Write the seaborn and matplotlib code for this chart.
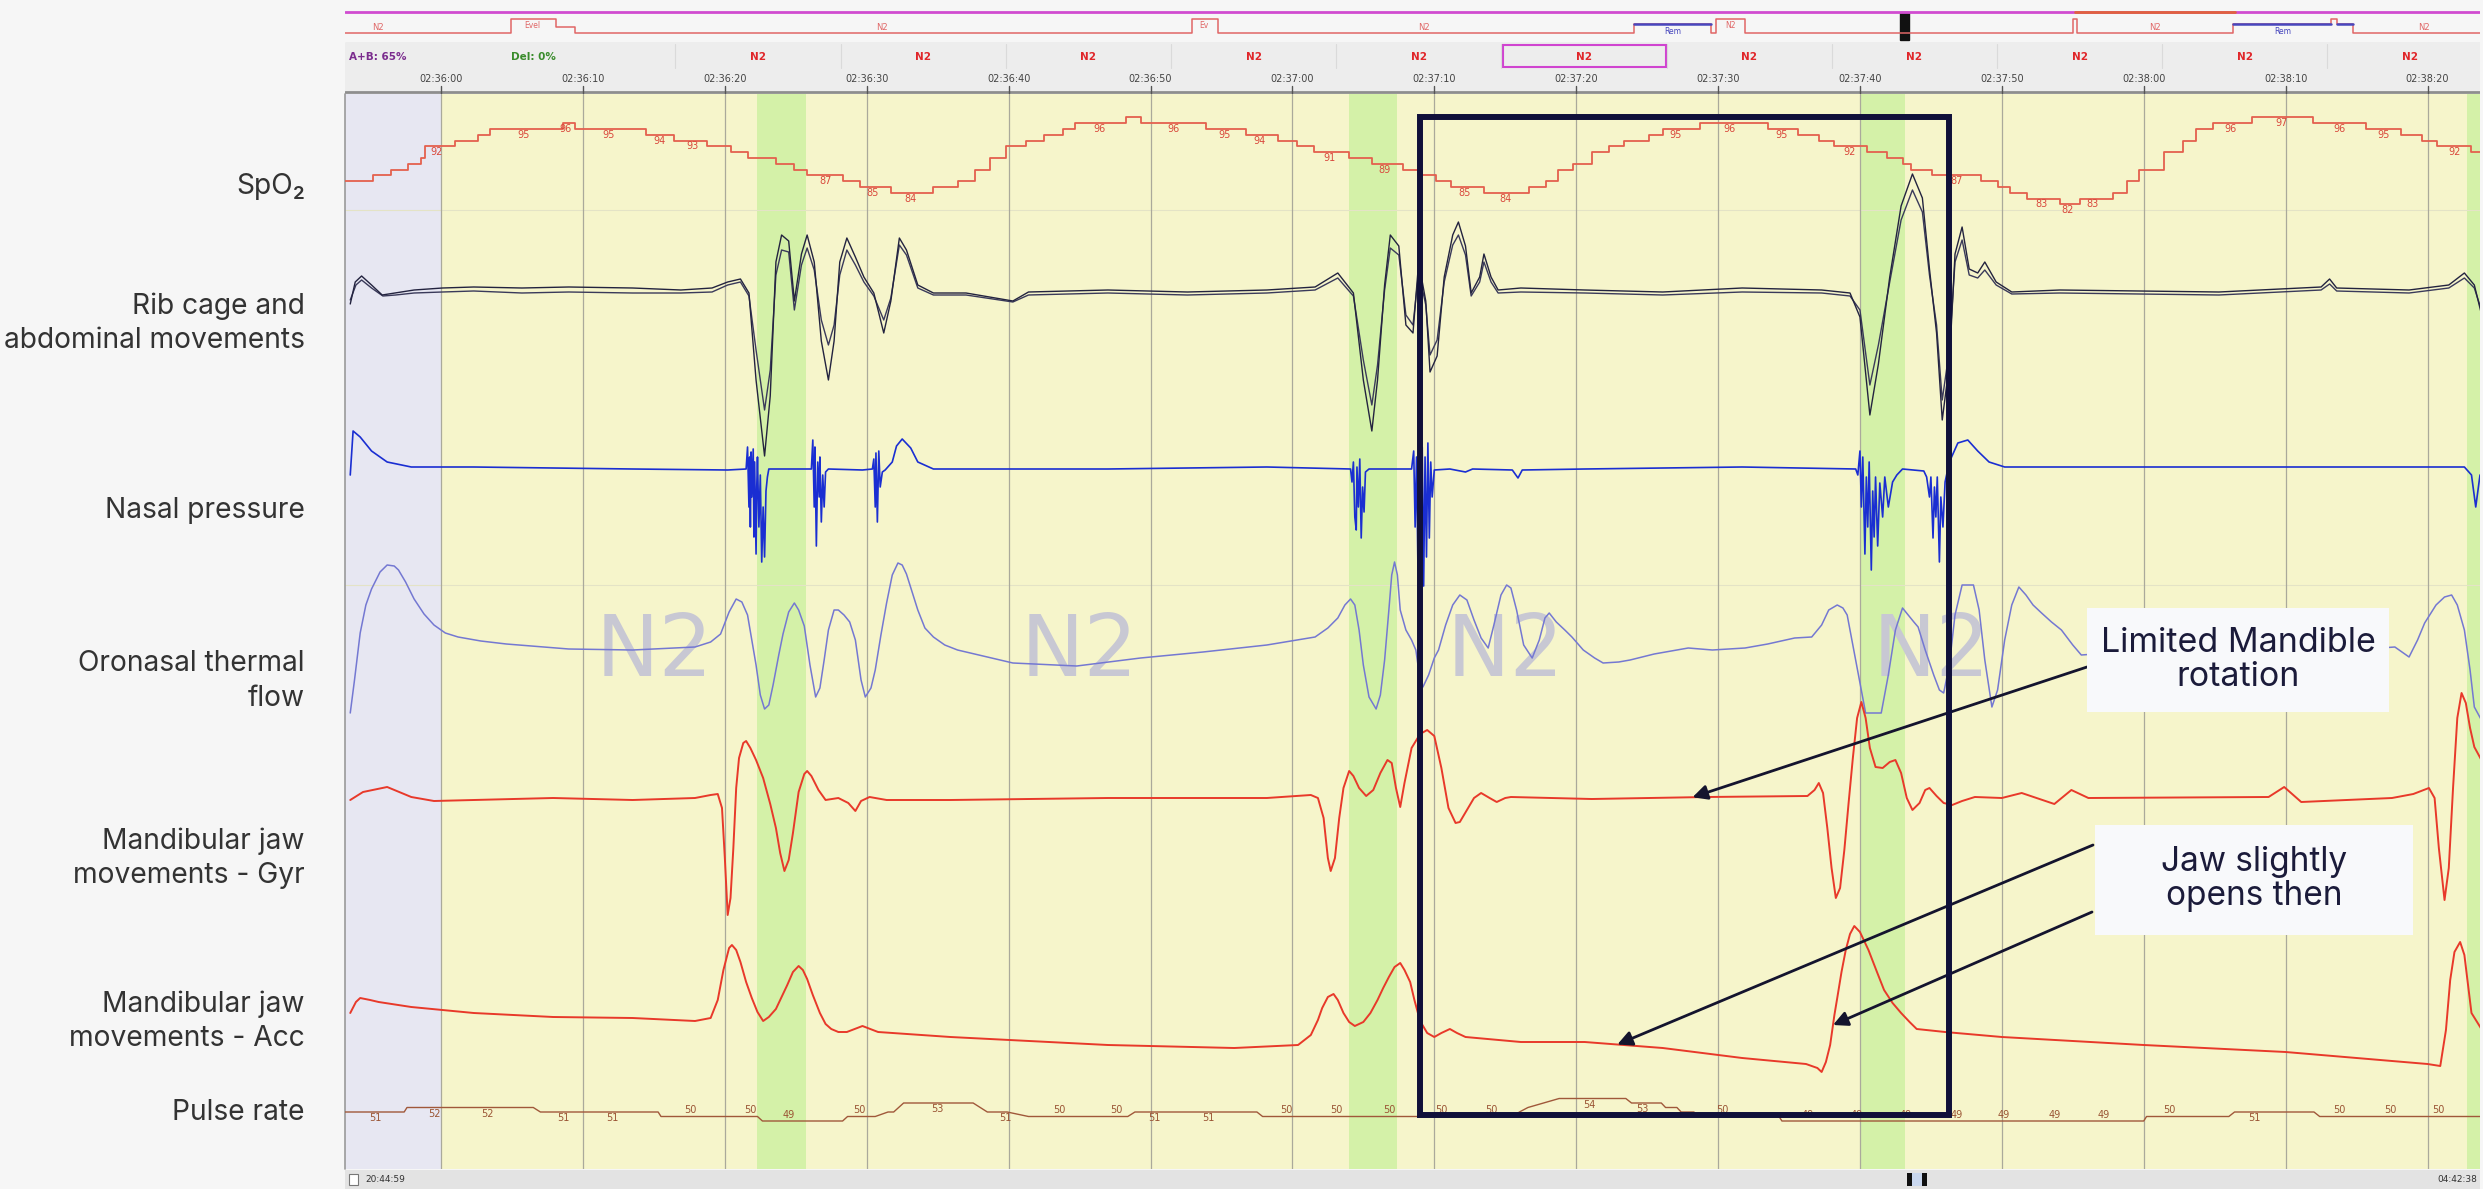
import numpy as np
import pandas as pd
import matplotlib
matplotlib.use("Agg")
import matplotlib.pyplot as plt
import seaborn as sns
from matplotlib.patches import Rectangle

# ------------------------------------------------------------------ data
# time axis: seconds after 02:36:00
tick_seconds = [0, 10, 20, 30, 40, 50, 60, 70, 80, 90, 100, 110, 120, 130, 140]
tick_labels = ["02:36:00", "02:36:10", "02:36:20", "02:36:30", "02:36:40",
               "02:36:50", "02:37:00", "02:37:10", "02:37:20", "02:37:30",
               "02:37:40", "02:37:50", "02:38:00", "02:38:10", "02:38:20"]

arousal_bands = [(22.3, 25.7), (64.0, 67.4), (100.1, 103.2), (142.8, 144.0)]
epoch_centers = [15, 45, 75, 105]
epoch_stages = ["N2", "N2", "N2", "N2"]
highlight_window = (69.0, 106.3)

# SpO2 (%), stepped
spo2_t = [-6.77, -4.8, -3.5, -2.3, -1.4, -1.1, 0.99, 2.6, 3.45, 8.6, 9.44, 14.45, 16.4,
          18.75, 20.4, 21.6, 23.6, 24.9, 25.8, 28.3, 29.5, 31.7, 34.7, 36.4, 37.6, 38.7,
          39.8, 41.2, 42.5, 43.8, 44.7, 48.3, 49.3, 53.9, 56.7, 59.0, 60.3, 61.5, 64.0,
          65.6, 67.8, 69.1, 70.1, 71.2, 73.5, 76.7, 77.9, 78.7, 79.8, 81.1, 82.3, 83.4,
          85.1, 86.1, 88.7, 93.5, 95.6, 97.1, 98.2, 100.5, 101.9, 103.0, 103.6, 105.1,
          108.5, 109.7, 110.6, 111.8, 114.1, 115.5, 117.8, 118.8, 119.7, 121.4, 122.8,
          123.7, 124.9, 127.6, 131.9, 135.7, 138.1, 139.6, 140.7, 143.1, 143.7]
spo2_v = [86, 87, 88, 89, 90, 92, 93, 94, 95, 96, 95, 94, 93, 92, 91, 90, 89, 88, 87, 86,
          85, 84, 85, 86, 88, 90, 92, 93, 94, 95, 96, 97, 96, 95, 94, 93, 92, 91, 90, 89,
          88, 87, 86, 85, 84, 85, 86, 88, 89, 91, 92, 93, 94, 95, 96, 95, 94, 93, 92, 91,
          90, 89, 88, 87, 86, 85, 84, 83, 82, 83, 84, 86, 88, 91, 93, 95, 96, 97, 96, 95,
          94, 93, 92, 91, 91]
spo2_label_t = [-0.3, 5.8, 8.8, 11.8, 15.4, 17.7, 27.1, 30.4, 33.1, 46.4, 51.6, 55.2,
                57.7, 62.6, 66.5, 72.1, 75.0, 87.0, 90.8, 94.5, 99.3, 106.8, 112.8, 114.6,
                116.4, 126.1, 129.7, 133.8, 136.9, 141.9]

# respiratory effort, two belts (a.u.)
rib = [(-6.4, -14), (-6.05, 8), (-5.6, 14), (-4.9, 5), (-4.15, -5), (-3.25, -3), (-1.9, 0),
       (0.1, 2), (2.3, 3), (5.7, 2), (9.0, 3), (13.5, 2), (16.9, 0), (19.1, 2), (20.2, 8),
       (21.1, 11), (21.7, -3), (22.2, -90), (22.8, -166), (23.2, -106), (23.6, 28),
       (24.0, 55), (24.5, 49), (24.9, -11), (25.4, 36), (25.8, 55), (26.3, 28), (26.8, -51),
       (27.3, -90), (27.7, -51), (28.1, 28), (28.6, 52), (29.2, 33), (29.8, 13), (30.5, -3),
       (31.2, -43), (31.7, -11), (32.3, 52), (32.8, 40), (33.6, 5), (34.7, -3), (37.0, -3),
       (40.3, -11), (41.4, -2), (47.0, 0), (52.6, -2), (58.2, 0), (61.6, 3), (63.2, 17),
       (64.3, -3), (65.0, -90), (65.6, -141), (66.0, -90), (66.5, 5), (66.9, 55), (67.5, 44),
       (68.0, -35), (68.5, -43), (68.9, 28), (69.4, -11), (69.7, -82), (70.2, -66), (70.7, 13),
       (71.3, 55), (71.7, 68), (72.2, 44), (72.6, -3), (73.2, 13), (73.5, 36), (74.0, 13),
       (74.5, 0), (76.1, 2), (80.6, 0), (86.1, -2), (91.7, 2), (97.3, 0), (99.3, -3),
       (100.0, -27), (100.7, -125), (101.3, -74), (102.1, 13), (102.9, 84), (103.7, 116),
       (104.4, 92), (104.9, 21), (105.4, -43), (105.8, -130), (106.3, -74), (106.7, 36),
       (107.2, 63), (107.7, 21), (108.3, 17), (108.8, 28), (109.6, 8), (110.7, -2),
       (114.1, 0), (125.3, -2), (132.5, 3), (133.1, 11), (133.6, 2), (138.7, 0), (141.5, 5),
       (142.6, 17), (143.3, 5), (143.8, -24)]
abd = [(-6.4, -10), (-6.0, 5), (-5.6, 10), (-4.9, 2), (-4.1, -6), (-3.2, -5), (-1.9, -3),
       (0.1, -2), (2.3, -1), (5.7, -3), (9.0, -2), (13.5, -3), (16.9, -3), (19.1, -2),
       (20.2, 5), (21.1, 8), (21.7, -6), (22.2, -60), (22.8, -120), (23.2, -80), (23.6, 15),
       (24.0, 40), (24.5, 38), (24.9, -20), (25.4, 25), (25.8, 42), (26.3, 20), (26.8, -30),
       (27.3, -55), (27.7, -35), (28.1, 15), (28.6, 40), (29.2, 25), (29.8, 8), (30.5, -6),
       (31.2, -30), (31.7, -8), (32.3, 45), (32.8, 35), (33.6, 2), (34.7, -5), (37.0, -5),
       (40.3, -12), (41.4, -5), (47.0, -3), (52.6, -5), (58.2, -3), (61.6, 0), (63.2, 12),
       (64.3, -6), (65.0, -70), (65.6, -115), (66.0, -75), (66.5, 0), (66.9, 42), (67.5, 35),
       (68.0, -25), (68.5, -35), (68.9, 18), (69.4, -15), (69.7, -65), (70.2, -50), (70.7, 8),
       (71.3, 45), (71.7, 55), (72.2, 35), (72.6, -6), (73.2, 8), (73.5, 28), (74.0, 8),
       (74.5, -3), (76.1, -2), (80.6, -3), (86.1, -5), (91.7, -2), (97.3, -3), (99.3, -6),
       (100.0, -20), (100.7, -95), (101.3, -55), (102.1, 8), (102.9, 70), (103.7, 100),
       (104.4, 78), (104.9, 15), (105.4, -35), (105.8, -110), (106.3, -60), (106.7, 28),
       (107.2, 50), (107.7, 15), (108.3, 12), (108.8, 20), (109.6, 5), (110.7, -4),
       (114.1, -3), (125.3, -5), (132.5, 0), (133.1, 6), (133.6, -1), (138.7, -3),
       (141.5, 2), (142.6, 12), (143.3, 2), (143.8, -20)]

# nasal pressure (a.u.)
nasal = [(-6.4, -8), (-6.2, 36), (-5.7, 30), (-4.9, 16), (-3.8, 5), (-2.1, 0), (2.3, 0),
         (13.5, -2), (20.2, -3), (21.5, -2), (21.6, 20), (21.7, -40), (21.75, 10), (21.8, -60),
         (21.85, 15), (21.9, -30), (22.0, 18), (22.05, -70), (22.1, 5), (22.2, -87),
         (22.25, -20), (22.3, 10), (22.4, -60), (22.5, -8), (22.6, -95), (22.7, -40),
         (22.8, -90), (22.9, -24), (23.0, -10), (23.1, -2), (24.7, -2), (26.1, -2),
         (26.2, 27), (26.3, -40), (26.35, 20), (26.45, -79), (26.55, 5), (26.65, -30),
         (26.7, 10), (26.8, -55), (26.9, -8), (27.0, -40), (27.1, -5), (27.3, -2),
         (29.7, -3), (30.4, -2), (30.5, 8), (30.6, -40), (30.65, 14), (30.75, -55),
         (30.85, 16), (30.95, -20), (31.1, -5), (31.3, -3), (31.8, 5), (32.1, 21),
         (32.5, 28), (33.1, 19), (33.6, 5), (34.7, -2), (47.0, -2), (58.2, 0), (64.1, -2),
         (64.2, -15), (64.3, 5), (64.4, -50), (64.5, -63), (64.55, 0), (64.65, -40),
         (64.75, 8), (64.85, -71), (64.95, -20), (65.05, -45), (65.15, -5), (65.4, -2),
         (68.4, -2), (68.55, 16), (68.65, -60), (68.75, 10), (68.85, -103), (68.95, 8),
         (69.05, -80), (69.15, 20), (69.25, -119), (69.35, 10), (69.45, -90), (69.55, 24),
         (69.65, -71), (69.75, 5), (69.85, -30), (70.0, -3), (71.1, -2), (72.2, -5),
         (72.7, -2), (75.5, -3), (75.9, -11), (76.2, -3), (80.6, -2), (91.7, 0), (99.7, -2),
         (99.85, -8), (100.0, 16), (100.1, -40), (100.2, 10), (100.35, -87), (100.45, -10),
         (100.55, -60), (100.65, 5), (100.8, -103), (100.9, -24), (101.0, -70), (101.1, -10),
         (101.25, -79), (101.4, -16), (101.6, -50), (101.75, -10), (102.0, -40),
         (102.3, -15), (102.6, -8), (103.0, -2), (104.5, -4), (104.7, -10), (104.9, -30),
         (105.0, -10), (105.15, -71), (105.25, -20), (105.35, -50), (105.45, -10),
         (105.6, -95), (105.7, -30), (105.85, -60), (106.0, -15), (106.3, 5), (106.9, 24),
         (107.6, 27), (108.3, 16), (109.1, 5), (110.2, 0), (125.3, 0), (142.6, 0),
         (143.1, -8), (143.4, -40), (143.7, -8)]

# oronasal thermal flow (a.u.)
flow = [(-6.4, -63), (-6.1, -30), (-5.7, 17), (-5.3, 45), (-4.9, 61), (-4.3, 78), (-3.8, 85),
        (-3.3, 84), (-3.0, 80), (-2.5, 68), (-1.9, 51), (-1.2, 36), (-0.5, 25), (0.3, 17),
        (1.2, 13), (2.8, 9), (4.6, 6), (9.0, 1), (13.5, 0), (17.9, 3), (19.0, 8), (19.7, 16),
        (20.3, 38), (20.8, 51), (21.2, 48), (21.6, 35), (21.9, 10), (22.2, -15), (22.5, -45),
        (22.8, -59), (23.1, -55), (23.4, -35), (23.8, -5), (24.1, 16), (24.5, 38), (24.9, 47),
        (25.2, 40), (25.6, 24), (26.0, -15), (26.4, -47), (26.7, -38), (27.0, -10), (27.3, 20),
        (27.7, 40), (28.0, 40), (28.4, 35), (28.8, 28), (29.2, 10), (29.6, -30), (29.9, -47),
        (30.3, -38), (30.6, -20), (31.0, 15), (31.4, 47), (31.8, 75), (32.2, 87), (32.5, 85),
        (32.8, 76), (33.2, 58), (33.6, 40), (34.1, 22), (34.7, 13), (35.5, 5), (36.4, 0),
        (40.3, -13), (44.8, -16), (49.3, -8), (53.7, -2), (58.2, 5), (61.6, 13), (62.5, 22),
        (63.2, 32), (63.7, 45), (64.1, 51), (64.4, 45), (64.7, 20), (65.0, -15), (65.4, -47),
        (65.9, -59), (66.2, -45), (66.5, -10), (66.8, 40), (67.0, 75), (67.2, 88), (67.4, 75),
        (67.6, 40), (68.0, 20), (68.4, 10), (68.7, 0), (69.0, -30), (69.2, -37), (69.6, -25),
        (70.0, -8), (70.3, 0), (70.8, 25), (71.3, 45), (71.8, 55), (72.3, 50), (72.8, 30),
        (73.3, 12), (73.8, 2), (74.2, 25), (74.7, 55), (75.1, 65), (75.4, 62), (75.8, 40),
        (76.3, 5), (76.9, -8), (77.4, 10), (77.8, 32), (78.1, 37), (78.6, 28), (79.2, 20),
        (79.7, 13), (80.5, 0), (81.3, -8), (81.9, -13), (83.0, -12), (83.8, -10), (85.5, -4),
        (87.9, 2), (89.6, 0), (91.9, 2), (93.5, 6), (95.4, 12), (96.6, 13), (97.3, 25),
        (97.8, 40), (98.4, 45), (98.8, 42), (99.1, 35), (99.5, 5), (100.0, -33), (100.4, -63),
        (101.5, -63), (102.0, -25), (102.5, 20), (103.0, 42), (103.4, 35), (103.8, 28),
        (104.1, 23), (104.6, 0), (105.2, -25), (105.6, -40), (105.9, -43), (106.3, -15),
        (106.7, 35), (107.2, 65), (108.0, 65), (108.4, 40), (108.8, -10), (109.3, -57),
        (109.7, -40), (110.2, 10), (110.7, 45), (111.2, 63), (111.7, 55), (112.2, 45),
        (112.8, 37), (113.5, 28), (114.2, 20), (115.0, 5), (115.6, -5), (120.5, 0),
        (127.6, -5), (134.7, 0), (137.7, 3), (138.7, -7), (139.3, 10), (139.8, 27),
        (140.6, 45), (141.2, 53), (141.7, 55), (142.1, 45), (142.6, 20), (143.0, -20),
        (143.3, -57), (143.8, -70)]

# mandibular jaw movements, gyroscope (a.u.)
gyr = [(-6.4, -2), (-5.5, 6), (-3.8, 11), (-2.1, 1), (-0.5, -3), (2.3, -2), (7.9, 0),
       (13.5, -2), (17.9, 0), (19.0, 3), (19.5, 4), (19.8, -10), (20.0, -60), (20.2, -117),
       (20.4, -100), (20.6, -50), (20.8, 10), (21.0, 40), (21.3, 55), (21.5, 57), (21.8, 50),
       (22.2, 38), (22.7, 20), (23.2, -6), (23.6, -30), (23.9, -55), (24.2, -73), (24.5, -62),
       (24.8, -35), (25.2, 6), (25.6, 24), (25.8, 27), (26.1, 22), (26.6, 8), (27.1, -2),
       (28.0, 0), (28.7, -5), (29.2, -13), (29.6, -3), (30.2, 1), (31.4, -2), (35.9, -2),
       (47.0, 0), (58.2, 0), (61.3, 3), (61.8, 0), (62.2, -20), (62.5, -60), (62.7, -73),
       (63.0, -60), (63.3, -20), (63.6, 10), (64.0, 27), (64.3, 22), (64.7, 10), (65.2, 2),
       (65.7, 8), (66.2, 25), (66.7, 38), (67.0, 35), (67.3, 10), (67.6, -9), (67.9, 15),
       (68.4, 50), (69.0, 64), (69.5, 68), (70.0, 62), (70.5, 30), (71.0, -10), (71.5, -25),
       (71.8, -24), (72.3, -12), (72.8, 0), (73.3, 5), (73.9, 0), (74.4, -4), (75.0, 0),
       (75.4, 1), (81.1, -1), (89.2, 1), (96.3, 2), (96.8, 8), (97.1, 15), (97.4, 5),
       (97.7, -30), (98.0, -70), (98.3, -100), (98.6, -90), (98.9, -52), (99.2, -5),
       (99.5, 40), (99.8, 80), (100.1, 96), (100.4, 80), (100.7, 50), (101.1, 31),
       (101.6, 30), (102.1, 36), (102.5, 38), (102.9, 25), (103.3, 0), (103.7, -12),
       (104.2, -5), (104.6, 8), (104.9, 10), (105.4, 2), (105.9, -5), (106.5, -7),
       (107.2, -3), (108.1, 1), (110.0, 0), (111.4, 5), (113.7, -6), (114.9, 8), (116.1, 0),
       (128.8, 1), (129.9, 11), (131.1, -4), (137.5, 0), (139.0, 4), (140.1, 10), (140.5, 0),
       (140.8, -50), (141.2, -102), (141.5, -70), (141.8, 10), (142.1, 80), (142.4, 105),
       (142.7, 95), (143.0, 70), (143.3, 51), (143.8, 38)]

# mandibular jaw movements, accelerometer (a.u.)
acc = [(-6.4, -13), (-6.0, -2), (-5.7, 2), (-5.0, 0), (-4.4, -2), (-2.1, -7), (2.3, -13),
       (7.9, -17), (13.5, -18), (17.9, -21), (19.0, -18), (19.5, 0), (19.9, 30), (20.3, 52),
       (20.5, 55), (20.8, 50), (21.1, 38), (21.5, 18), (21.9, 2), (22.3, -12), (22.7, -21),
       (23.1, -17), (23.6, -9), (24.0, 3), (24.4, 15), (24.8, 28), (25.2, 34), (25.5, 30),
       (25.8, 21), (26.2, 5), (26.7, -13), (27.1, -24), (27.5, -29), (28.0, -32), (28.6, -32),
       (29.7, -26), (30.8, -32), (35.9, -37), (47.0, -45), (55.9, -48), (60.4, -45),
       (61.3, -35), (61.8, -20), (62.1, -8), (62.5, 3), (62.9, 6), (63.2, 0), (63.6, -13),
       (64.0, -22), (64.4, -26), (65.0, -22), (65.5, -13), (66.0, 0), (66.4, 12), (66.8, 23),
       (67.2, 33), (67.6, 37), (67.9, 30), (68.3, 18), (68.6, 0), (69.0, -21), (69.5, -33),
       (70.0, -37), (70.5, -33), (71.1, -29), (71.6, -33), (72.2, -37), (76.1, -42),
       (80.6, -42), (86.1, -48), (91.7, -58), (96.2, -64), (97.0, -68), (97.3, -72),
       (97.6, -62), (97.9, -45), (98.2, -15), (98.4, 2), (98.7, 28), (99.0, 50), (99.3, 66),
       (99.6, 74), (100.0, 68), (100.6, 50), (101.2, 28), (101.7, 10), (102.3, -3),
       (102.9, -13), (103.5, -22), (104.0, -29), (106.0, -32), (110.0, -37), (120.0, -45),
       (130.0, -52), (140.0, -64), (140.9, -66), (141.3, -30), (141.6, 20), (141.9, 48),
       (142.3, 58), (142.6, 45), (142.9, 10), (143.1, -13), (143.8, -29)]

# pulse rate (bpm), stepped with sloped transitions
pulse = [(-6.8, 51), (-2.6, 51), (-2.4, 52), (6.5, 52), (7.0, 51), (15.3, 51), (15.5, 50),
         (22.3, 50), (22.65, 49), (28.3, 49), (28.65, 50), (30.6, 50), (31.5, 51), (31.9, 51),
         (32.6, 53), (37.5, 53), (38.5, 51), (39.9, 51), (41.4, 50), (48.4, 50), (48.9, 51),
         (57.5, 51), (57.9, 50), (75.5, 50), (76.0, 51), (76.6, 52), (77.7, 53), (78.8, 54),
         (83.5, 54), (83.9, 53), (86.0, 53), (86.3, 52), (87.1, 52), (87.4, 51), (88.3, 51),
         (88.6, 50), (94.3, 50), (94.5, 49), (120.0, 49), (120.2, 50), (126.0, 50),
         (126.4, 51), (132.0, 51), (132.4, 50), (143.8, 50)]
pulse_label_t = [-4.6, -0.5, 3.3, 8.6, 12.1, 17.6, 21.8, 24.5, 29.5, 35.0, 39.8, 43.6, 47.6,
                 50.3, 54.1, 59.6, 63.1, 66.8, 70.5, 74.0, 80.9, 84.7, 90.3, 96.3, 99.8,
                 103.2, 106.8, 110.1, 113.7, 117.2, 121.8, 127.8, 133.8, 137.4, 140.8]

# overview hypnogram (fraction of the night)
hyp_start = [0.0, 0.0778, 0.0988, 0.1077, 0.3967, 0.4089, 0.6037, 0.6398, 0.6422, 0.6557,
             0.8094, 0.8112, 0.8843, 0.9302, 0.9330, 0.9405, 1.0]
hyp_stage = ["N2", "W", "A", "N2", "W", "N2", "REM", "N2", "W", "N2", "W", "N2", "REM",
             "W", "REM", "N2", "N2"]
header_stages = ["N2"] * 11

channel_names = ["SpO\u2082", "Rib cage and\nabdominal movements", "Nasal pressure",
                 "Oronasal thermal\nflow", "Mandibular jaw\nmovements - Gyr",
                 "Mandibular jaw\nmovements - Acc", "Pulse rate"]

# ------------------------------------------------------------------ style
sns.set_theme(style="white")
plt.rcParams["font.family"] = ["Inter", "DejaVu Sans"]
NARROW = ["Liberation Sans Narrow", "DejaVu Sans"]

W, H = 2483, 1189
fig = plt.figure(figsize=(W / 100, H / 100), dpi=100)
fig.patch.set_facecolor("#F6F6F6")


def frac_rect(x0, y0, x1, y1):
    return [x0 / W, 1 - y1 / H, (x1 - x0) / W, (y1 - y0) / H]


PLOT = (345, 94, 2480, 1169)
T0, T1 = -6.77, 143.7


def px2t(x):
    return (x - 441) / 14.19


# ---- background: epochs, arousal bands, grid, stage watermark
bg = fig.add_axes(frac_rect(*PLOT))
bg.set_xlim(T0, T1)
bg.set_ylim(PLOT[3], PLOT[1])
bg.axvspan(T0, 0, color="#E7E7F2", lw=0)
bg.axvspan(0, T1, color="#F6F5CB", lw=0)
for a, b in arousal_bands:
    bg.axvspan(a, b, color="#D4F1A8", lw=0)
for y in (210, 585):
    bg.axhline(y, color="#E4E3C6", lw=0.8)
for s in tick_seconds:
    bg.axvline(s, color="#AAA99B", lw=0.9)
for t, lab in zip(epoch_centers, epoch_stages):
    bg.text(t, 652, lab, ha="center", va="center", fontsize=61, color="#C8C8D3",
            family="DejaVu Sans")
bg.plot([T0, T0], [PLOT[1], PLOT[3]], color="#9A9A9A", lw=1.2, clip_on=False)
bg.set_axis_off()


def channel(base_px, px_per_unit, base_val=0.0):
    ax = fig.add_axes(frac_rect(*PLOT), sharex=bg)
    ax.patch.set_visible(False)
    lim = (base_val - (PLOT[3] - base_px) / px_per_unit,
           base_val + (base_px - PLOT[1]) / px_per_unit)
    return ax, lim


def trace(ax, lim, t, v, color, lw, step=False):
    df = pd.DataFrame({"t": t, "v": v})
    sns.lineplot(data=df, x="t", y="v", ax=ax, color=color, linewidth=lw,
                 estimator=None, sort=False, legend=False,
                 drawstyle="steps-post" if step else "default")
    ax.set_ylim(*lim)
    ax.set_xlim(T0, T1)
    ax.set_axis_off()


def unzip(pairs):
    a, b = zip(*pairs)
    return list(a), list(b)


# SpO2
ax_s, lim_s = channel(129, 5.8, 95)
trace(ax_s, lim_s, spo2_t, spo2_v, "#E4604E", 1.3, step=True)
st_arr = np.array(spo2_t)
for lt in spo2_label_t:
    val = spo2_v[int(np.searchsorted(st_arr, lt, side="right")) - 1]
    ax_s.text(lt, val - 0.15, f"{val}", ha="center", va="top", fontsize=7,
              color="#D9483C", family=NARROW)

# respiratory effort belts
ax_r, lim_r = channel(290, 1.0)
trace(ax_r, lim_r, *unzip(abd), "#3A3A5A", 1.0)
trace(ax_r, lim_r, *unzip(rib), "#23233F", 1.0)

# nasal pressure
ax_n, lim_n = channel(467, 1.0)
trace(ax_n, lim_n, *unzip(nasal), "#1A2ED2", 1.2)

# thermal flow
ax_f, lim_f = channel(650, 1.0)
trace(ax_f, lim_f, *unzip(flow), "#7478D2", 1.1)

# jaw gyroscope / accelerometer
ax_g, lim_g = channel(798, 1.0)
trace(ax_g, lim_g, *unzip(gyr), "#E8392A", 1.4)
ax_a, lim_a = channel(1000, 1.0)
trace(ax_a, lim_a, *unzip(acc), "#E8392A", 1.4)

# pulse rate
ax_p, lim_p = channel(1112, 4.5, 51)
pt, pv = unzip(pulse)
trace(ax_p, lim_p, pt, pv, "#A0583A", 1.0)
for lt in pulse_label_t:
    val = int(round(np.interp(lt, pt, pv)))
    above = val <= 50
    ax_p.text(lt, val + (0.25 if above else -0.25), f"{val}", ha="center",
              va="bottom" if above else "top", fontsize=7, color="#9A5434", family=NARROW)

# ---- overlay: highlight window, annotations
ov = fig.add_axes(frac_rect(*PLOT), sharex=bg)
ov.patch.set_visible(False)
ov.set_ylim(PLOT[3], PLOT[1])
ov.set_xlim(T0, T1)
ov.add_patch(Rectangle((highlight_window[0], 117), highlight_window[1] - highlight_window[0],
                       998, fill=False, ec="#10103A", lw=4.3, zorder=5))
ov.set_axis_off()

full = fig.add_axes([0, 0, 1, 1])
full.set_xlim(0, W)
full.set_ylim(H, 0)
full.patch.set_visible(False)
full.set_axis_off()
ANN = "#1B1B3A"
full.add_patch(Rectangle((2087, 608), 302, 104, fc="#F8F9FB", ec="none", zorder=6))
full.text(2238, 660, "Limited Mandible\nrotation", ha="center", va="center", fontsize=24.5,
          color=ANN, linespacing=1.05, zorder=7)
full.add_patch(Rectangle((2095, 825), 318, 110, fc="#F8F9FB", ec="none", zorder=6))
full.text(2254, 879, "Jaw slightly\nopens then", ha="center", va="center", fontsize=24,
          color=ANN, linespacing=1.05, zorder=7)

arrow = dict(arrowstyle="-|>", color="#14142E", lw=2.0, mutation_scale=22,
             shrinkA=0, shrinkB=0)
gt, gv = unzip(gyr)
at, av = unzip(acc)
ax_g.annotate("", xy=(88.2, np.interp(88.2, gt, gv)), xycoords="data",
              xytext=(2087, H - 667), textcoords="figure pixels", arrowprops=arrow,
              annotation_clip=False)
ax_a.annotate("", xy=(82.9, np.interp(82.9, at, av)), xycoords="data",
              xytext=(2093, H - 845), textcoords="figure pixels", arrowprops=arrow,
              annotation_clip=False)
ax_a.annotate("", xy=(98.1, np.interp(98.1, at, av)), xycoords="data",
              xytext=(2092, H - 912), textcoords="figure pixels", arrowprops=arrow,
              annotation_clip=False)

# ---- header: overview hypnogram strip
strip = fig.add_axes(frac_rect(345, 0, 2480, 43))
strip.set_xlim(0, 1)
strip.set_ylim(43, 0)
strip.set_facecolor("#F7F7F7")
levels = {"W": 19, "A": 27, "REM": 24, "N2": 33}
strip.plot([0, 1], [12, 12], color="#D04CD0", lw=2)
strip.plot([0.8103, 0.8852], [12, 12], color="#E0623E", lw=2)
strip.step(hyp_start, [levels[s] for s in hyp_stage], where="post", color="#E06666", lw=1.1)
for i, s in enumerate(hyp_stage[:-1]):
    if s == "REM":
        strip.plot([hyp_start[i], hyp_start[i + 1]], [24, 24], color="#4747BE", lw=1.8)
for x, lab in [(0.0155, "N2"), (0.2515, "N2"), (0.5054, "N2"), (0.8478, "N2"), (0.9738, "N2")]:
    strip.text(x, 28, lab, ha="center", va="center", fontsize=6, color="#E06666", family=NARROW)
for x, lab in [(0.0876, "Evel"), (0.4023, "Ev"), (0.649, "N2")]:
    strip.text(x, 25, lab, ha="center", va="center", fontsize=5.5, color="#E06666", family=NARROW)
for x in (0.622, 0.9077):
    strip.text(x, 31, "Rem", ha="center", va="center", fontsize=5.5, color="#4747BE", family=NARROW)
strip.add_patch(Rectangle((0.7283, 12), 0.0042, 28, color="#111111"))
strip.axhline(42.5, color="#C9C9C9", lw=1)
strip.set_axis_off()

# ---- header: epoch summary row and time ruler
hd = fig.add_axes(frac_rect(345, 43, 2480, 94))
hd.set_xlim(T0, T1)
hd.set_ylim(94, 43)
hd.axhspan(43, 92, color="#EDEDED", lw=0)
hd.axhline(92, color="#8E8E8E", lw=2)
cell0, cell_w = px2t(758), (px2t(923.2) - px2t(758))
for k, lab in enumerate(header_stages):
    c = cell0 + k * cell_w
    hd.plot([c - cell_w / 2] * 2, [44, 68], color="#DADADA", lw=0.8)
    hd.text(c, 57, lab, ha="center", va="center", fontsize=7.5, color="#E0262A",
            fontweight="bold", family=NARROW)
hd.add_patch(Rectangle((px2t(1503), 45), px2t(1666) - px2t(1503), 22, fill=False,
                       ec="#D044D0", lw=1.5))
hd.text(px2t(349), 57, "A+B: 65%", ha="left", va="center", fontsize=7.5, color="#7B2C8E",
        fontweight="bold", family=NARROW)
hd.text(px2t(511), 57, "Del: 0%", ha="left", va="center", fontsize=7.5, color="#3A8C2C",
        fontweight="bold", family=NARROW)
for s, lab in zip(tick_seconds, tick_labels):
    hd.plot([s, s], [86, 94], color="#555555", lw=1)
    hd.text(s, 79, lab, ha="center", va="center", fontsize=7, color="#444444", family=NARROW)
hd.set_axis_off()

# ---- footer scroll bar
ft = fig.add_axes(frac_rect(345, 1170, 2480, 1189))
ft.set_xlim(0, 1)
ft.set_ylim(19, 0)
ft.set_facecolor("#E3E3E3")
ft.add_patch(Rectangle((0.002, 4), 0.004, 11, fc="#FFFFFF", ec="#777777", lw=0.8))
ft.text(0.0095, 9.5, "20:44:59", ha="left", va="center", fontsize=6.5, color="#333333",
        family=NARROW)
ft.text(0.9985, 9.5, "04:42:38", ha="right", va="center", fontsize=6.5, color="#333333",
        family=NARROW)
ft.add_patch(Rectangle((0.7316, 3), 0.0094, 13, fc="#C9D7EE", ec="none"))
ft.add_patch(Rectangle((0.7316, 3), 0.0024, 13, fc="#111111", ec="none"))
ft.add_patch(Rectangle((0.7386, 3), 0.0024, 13, fc="#111111", ec="none"))
ft.set_xticks([])
ft.set_yticks([])
for sp in ft.spines.values():
    sp.set_visible(False)

# ---- channel names
name_y = [187, 323, 511, 681, 858, 1021, 1113]
for y, name in zip(name_y, channel_names):
    fig.text(305 / W, 1 - y / H, name, ha="right", va="center", fontsize=20.3,
             color="#333333", linespacing=1.35)

fig.savefig("out.png", dpi=100, facecolor=fig.get_facecolor())
